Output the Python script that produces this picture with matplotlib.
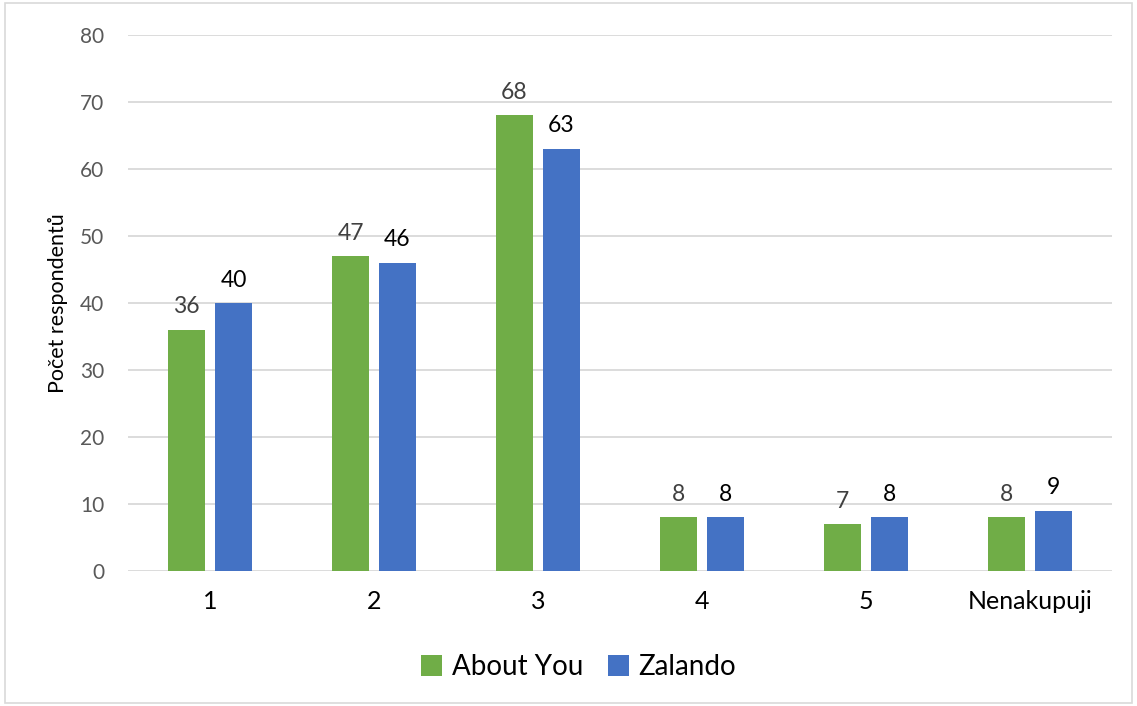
import matplotlib.pyplot as plt
import numpy as np

kategorie = ["1", "2", "3", "4", "5", "Nenakupuji"]
about_you = [36, 47, 68, 8, 7, 8]
zalando = [40, 46, 63, 8, 8, 9]

plt.rcParams['font.family'] = ['Lato', 'DejaVu Sans']

fig = plt.figure(figsize=(11.37, 7.06), dpi=100)
ax = fig.add_axes([0.1126, 0.1912, 0.8654, 0.7592])

x = np.arange(len(kategorie))
w = 0.226
b1 = ax.bar(x - 0.143, about_you, w, color="#70AD47", label="About You", zorder=3)
b2 = ax.bar(x + 0.143, zalando, w, color="#4472C4", label="Zalando", zorder=3)

# popisky hodnot nad sloupci
for rect, v in zip(b1, about_you):
    ax.annotate(str(v), (rect.get_x() + rect.get_width() / 2, v), xytext=(0, 9),
                textcoords="offset points", ha="center", va="bottom",
                fontsize=16.5, color="#404040")
for rect, v in zip(b2, zalando):
    ax.annotate(str(v), (rect.get_x() + rect.get_width() / 2, v), xytext=(0, 9),
                textcoords="offset points", ha="center", va="bottom",
                fontsize=16.5, color="black")

ax.set_xlim(-0.5, len(kategorie) - 0.5)
ax.set_ylim(0, 80)
ax.set_yticks(range(0, 81, 10))
ax.set_xticks(x)
ax.set_xticklabels(kategorie, fontsize=18, color="black")
ax.tick_params(axis="y", labelsize=15, labelcolor="#595959", length=0, pad=17)
ax.tick_params(axis="x", length=0, pad=14)
ax.grid(axis="y", color="#D9D9D9", linewidth=1.3, zorder=0)
for s in ax.spines.values():
    s.set_visible(False)

ax.set_ylabel("Počet respondentů", fontsize=15.5, color="black", labelpad=9)

fig.legend(loc="center", bbox_to_anchor=(0.509, 0.055), ncol=2, frameon=False,
           fontsize=20, handlelength=0.75, handleheight=0.75, handletextpad=0.35, columnspacing=0.9)

border = plt.Rectangle((0.004, 0.004), 0.992, 0.992, transform=fig.transFigure,
                       fill=False, edgecolor="#D9D9D9", linewidth=1.2)
fig.patches.append(border)

fig.savefig("out.png", dpi=100)
